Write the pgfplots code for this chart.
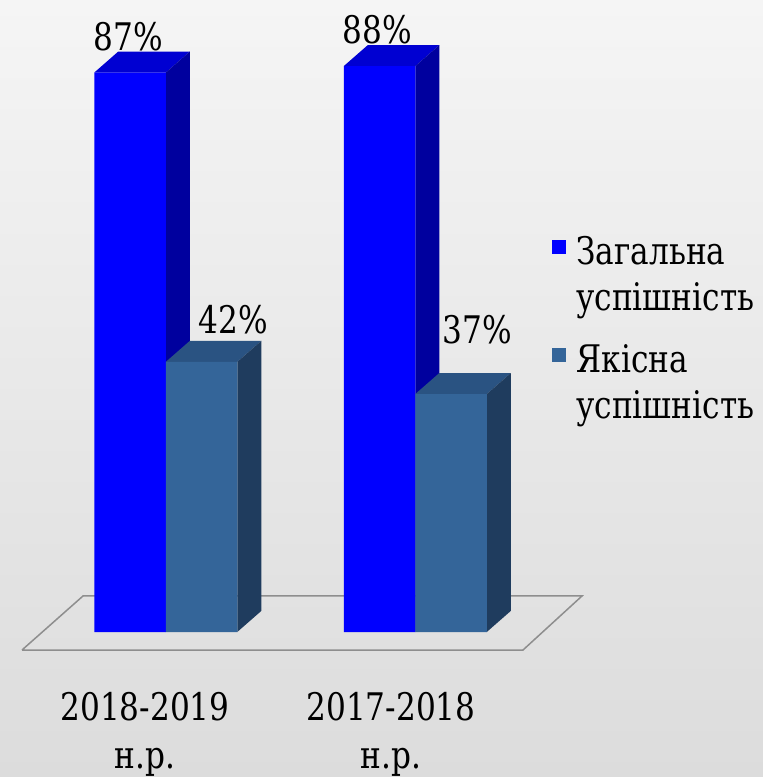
\documentclass[border=0pt]{standalone}
\usepackage{fontspec}
\setmainfont{DejaVu Serif}[FakeStretch=0.82]
\newfontfamily\tnr{DejaVu Serif}[FakeStretch=0.82]
\usepackage{pgfplots}
\usepackage{pgfplotstable}
\pgfplotsset{compat=1.18}

\definecolor{bgtop}{HTML}{F5F5F5}
\definecolor{bgbot}{HTML}{DCDCDC}
\definecolor{blfront}{HTML}{0000FF}
\definecolor{bltop}{HTML}{0000D2}
\definecolor{blside}{HTML}{00009E}
\definecolor{stfront}{HTML}{346599}
\definecolor{sttop}{HTML}{2A5382}
\definecolor{stside}{HTML}{1F3C5E}
\definecolor{floorline}{HTML}{8E8E8E}

% x = bar centre (px), y = value (%), lx/ly = where its label sits
\pgfplotstableread{
x y lx ly
130 87 128 90.51
379.5 88 377 91.60
}\zagalna
\pgfplotstableread{
x y lx ly
201.5 42 233.5 46.35
451 37 477 44.79
}\yakisna

\pgfplotsset{
  sq legend/.style={legend image code/.code={\fill[##1] (0pt,10.5pt) rectangle (7pt,17.5pt);}},
  pct labels/.style={
    draw=none, mark=none, forget plot,
    point meta=explicit,
    nodes near coords={\pgfmathprintnumber{\pgfplotspointmeta}\%},
    every node near coord/.append style={anchor=base,
      inner sep=0pt, text=black, font=\tnr\fontsize{19}{23}\selectfont},
  },
}

\begin{document}
\begin{tikzpicture}
\begin{axis}[
  scale only axis, width=381.5pt, height=388.5pt,
  xmin=0, xmax=763, ymin=-22.55, ymax=98.29,
  axis line style={draw=none}, tick style={draw=none},
  /pgf/number format/assume math mode=true,
  ytick=\empty,
  xtick={145,391},
  xticklabels={{2018-2019\\н.р.},{2017-2018\\н.р.}},
  xticklabel style={align=center, anchor=south, inner sep=0pt,
    font=\tnr\fontsize{19}{24}\selectfont},
  axis background/.style={shade, top color=bgtop, bottom color=bgbot},
  clip=false,
  legend style={at={(0.7235,0.696)}, anchor=north west, draw=none, fill=none,
    font=\tnr\fontsize{19}{23}\selectfont, cells={align=left}, row sep=15.5pt,
    column sep=5pt, inner sep=0pt, nodes={inner sep=0pt}},
  legend cell align=left,
]
% floor
\addplot[draw=floorline, line width=0.75pt, forget plot] coordinates {
  (22,-2.8) (523,-2.8) (582,5.6) (83,5.6) (22,-2.8)};

% 3D faces of the first series
\addplot[fill=bltop, draw=none, forget plot] coordinates {(94.25,87) (165.75,87) (189.75,90.27) (118.25,90.27)};
\addplot[fill=blside, draw=none, forget plot] coordinates {(165.75,0) (165.75,87) (189.75,90.27) (189.75,3.27)};
\addplot[fill=bltop, draw=none, forget plot] coordinates {(343.75,88) (415.25,88) (439.25,91.27) (367.75,91.27)};
\addplot[fill=blside, draw=none, forget plot] coordinates {(415.25,0) (415.25,88) (439.25,91.27) (439.25,3.27)};
\addplot[ybar, bar width=71.5, bar shift=0pt, fill=blfront, draw=none, sq legend]
  table[x=x, y=y] {\zagalna};
\addlegendentry{Загальна\\успішність}

% 3D faces of the second series
\addplot[fill=sttop, draw=none, forget plot] coordinates {(165.75,42) (237.25,42) (261.25,45.27) (189.75,45.27)};
\addplot[fill=stside, draw=none, forget plot] coordinates {(237.25,0) (237.25,42) (261.25,45.27) (261.25,3.27)};
\addplot[fill=sttop, draw=none, forget plot] coordinates {(415.25,37) (486.75,37) (510.75,40.27) (439.25,40.27)};
\addplot[fill=stside, draw=none, forget plot] coordinates {(486.75,0) (486.75,37) (510.75,40.27) (510.75,3.27)};
\addplot[ybar, bar width=71.5, bar shift=0pt, fill=stfront, draw=none, sq legend]
  table[x=x, y=y] {\yakisna};
\addlegendentry{Якісна\\успішність}

% value labels
\addplot[pct labels] table[x=lx, y=ly, meta=y] {\zagalna};
\addplot[pct labels] table[x=lx, y=ly, meta=y] {\yakisna};
\end{axis}
\end{tikzpicture}
\end{document}
